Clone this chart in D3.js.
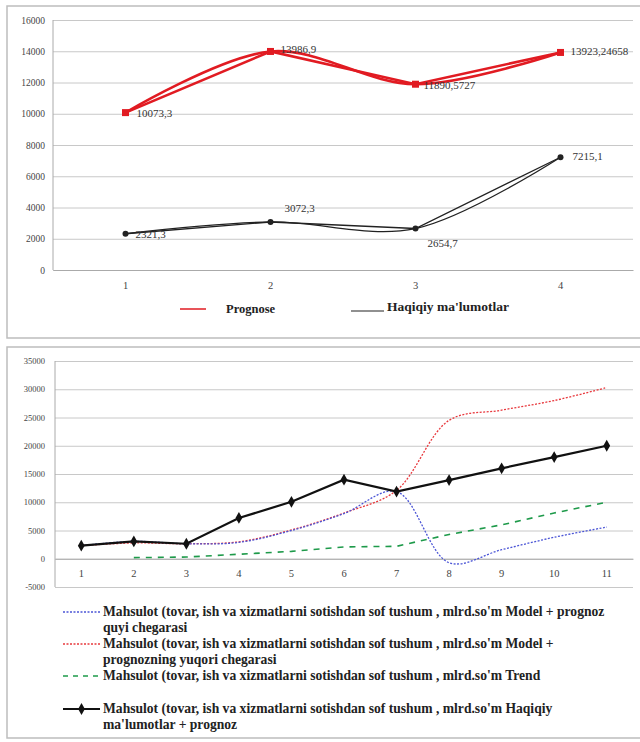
<!DOCTYPE html>
<html><head><meta charset="utf-8">
<script src="https://cdn.jsdelivr.net/npm/d3@7"></script>
<style>
body{margin:0;background:#fff;}
svg{display:block;}
</style></head>
<body>
<svg id="c" width="640" height="742"></svg>
<script>
// ---- top chart data
const topCats = ["1","2","3","4"];
const topPrognose = [10073.3, 13986.9, 11890.5727, 13923.24658];
const topPrognoseLabels = ["10073,3","13986,9","11890,5727","13923,24658"];
const topActual = [2321.3, 3072.3, 2654.7, 7215.1];
const topActualLabels = ["2321,3","3072,3","2654,7","7215,1"];
const topTicks = [0,2000,4000,6000,8000,10000,12000,14000,16000];

// ---- bottom chart data
const botCats = ["1","2","3","4","5","6","7","8","9","10","11"];
const botLower = [2321.3, 3072.3, 2654.7, 2900, 5000, 8000, 11890.6, -700, 1600, 3800, 5600];
const botUpper = [2321.3, 2800, 2654.7, 3000, 5100, 8100, 12100, 24500, 26300, 28000, 30300];
const botTrend = [null, 200, 300, 800, 1300, 2100, 2200, 4300, 6000, 8100, 10000];
const botActual = [2321.3, 3072.3, 2654.7, 7215.1, 10073.3, 13986.9, 11890.6, 13923.2, 16000, 18000, 20000];
const botTicks = [-5000,0,5000,10000,15000,20000,25000,30000,35000];

const legendTop = ["Prognose","Haqiqiy ma'lumotlar"];
const legendBot = [
 ["Mahsulot (tovar, ish va xizmatlarni sotishdan sof tushum , mlrd.so'm Model + prognoz","quyi chegarasi"],
 ["Mahsulot (tovar, ish va xizmatlarni sotishdan sof tushum , mlrd.so'm Model +","prognozning yuqori chegarasi"],
 ["Mahsulot (tovar, ish va xizmatlarni sotishdan sof tushum , mlrd.so'm Trend"],
 ["Mahsulot (tovar, ish va xizmatlarni sotishdan sof tushum , mlrd.so'm Haqiqiy","ma'lumotlar + prognoz"]
];

const svg = d3.select("#c");
const serif = "'Liberation Serif','DejaVu Serif',serif";
const gridC = "#c8c8c8";

// frames
svg.append("rect").attr("x",7).attr("y",6).attr("width",640).attr("height",332)
  .attr("fill","none").attr("stroke","#bdbdbd").attr("stroke-width",1.5);
svg.append("rect").attr("x",7).attr("y",347).attr("width",640).attr("height",391)
  .attr("fill","none").attr("stroke","#bdbdbd").attr("stroke-width",1.5);

// ================= TOP CHART
const tx = d3.scaleBand().domain(topCats).range([53,633]);
const ty = d3.scaleLinear().domain([0,16000]).range([270,20]);
const tg = svg.append("g");
tg.append("g").attr("transform","translate(53,0)")
  .call(d3.axisLeft(ty).tickValues(topTicks).tickSize(-580).tickFormat(d=>d))
  .call(g=>{g.select(".domain").remove();
    g.selectAll(".tick line").attr("stroke",gridC);
    g.selectAll(".tick text").attr("font-family",serif).attr("font-size",9.5).attr("fill","#444").attr("x",-8);});
tg.append("line").attr("x1",53).attr("x2",53).attr("y1",20).attr("y2",270).attr("stroke","#aaa");
tg.append("g").attr("transform","translate(0,270)")
  .call(d3.axisBottom(tx).tickSize(0).tickPadding(12))
  .call(g=>{g.select(".domain").attr("stroke","#aaa");
    g.selectAll(".tick text").attr("font-family",serif).attr("font-size",10.5).attr("fill","#444");});
const tcx = (d,i)=>tx(topCats[i])+tx.bandwidth()/2;
const red = "#e11b22";
[d3.curveLinear, d3.curveCatmullRom].forEach(cv=>{
  tg.append("path").datum(topPrognose)
    .attr("d",d3.line().x(tcx).y(d=>ty(d)).curve(cv))
    .attr("fill","none").attr("stroke",red).attr("stroke-width",2.6);
  tg.append("path").datum(topActual)
    .attr("d",d3.line().x(tcx).y(d=>ty(d)).curve(cv))
    .attr("fill","none").attr("stroke","#222").attr("stroke-width",1.3);
});
tg.selectAll(".rp").data(topPrognose).join("rect")
  .attr("x",(d,i)=>tcx(d,i)-3.5).attr("y",d=>ty(d)-3.5).attr("width",7).attr("height",7)
  .attr("fill",red);
tg.selectAll(".bp").data(topActual).join("circle")
  .attr("cx",tcx).attr("cy",d=>ty(d)).attr("r",3).attr("fill","#222");
const pOff = [[11,4],[10,2],[8,5],[10,3]];
tg.selectAll(".pl").data(topPrognose).join("text")
  .attr("x",(d,i)=>tcx(d,i)+pOff[i][0]).attr("y",(d,i)=>ty(d)+pOff[i][1])
  .attr("font-family",serif).attr("font-size",11).attr("fill","#333")
  .text((d,i)=>topPrognoseLabels[i]);
const aOff = [[10,4],[14,-10],[12,18],[12,3]];
tg.selectAll(".al").data(topActual).join("text")
  .attr("x",(d,i)=>tcx(d,i)+aOff[i][0]).attr("y",(d,i)=>ty(d)+aOff[i][1])
  .attr("font-family",serif).attr("font-size",11).attr("fill","#333")
  .text((d,i)=>topActualLabels[i]);
// top legend
tg.append("line").attr("x1",180).attr("x2",206).attr("y1",309).attr("y2",309).attr("stroke",red).attr("stroke-width",1.5);
tg.append("text").attr("x",226).attr("y",313).attr("font-family",serif).attr("font-size",12.5).attr("font-weight","bold").attr("fill","#222").text(legendTop[0]);
tg.append("line").attr("x1",351).attr("x2",384).attr("y1",311).attr("y2",311).attr("stroke","#222").attr("stroke-width",1.2);
tg.append("text").attr("x",387).attr("y",311).attr("font-family",serif).attr("font-size",13.5).attr("font-weight","bold").attr("fill","#222").text(legendTop[1]);

// ================= BOTTOM CHART
const bx = d3.scaleBand().domain(botCats).range([55,633]);
const by = d3.scaleLinear().domain([-5000,35000]).range([587,361]);
const bg = svg.append("g");
bg.append("g").attr("transform","translate(55,0)")
  .call(d3.axisLeft(by).tickValues(botTicks).tickSize(-578).tickFormat(d=>d))
  .call(g=>{g.select(".domain").remove();
    g.selectAll(".tick line").attr("stroke",gridC);
    g.selectAll(".tick text").attr("font-family",serif).attr("font-size",8.5).attr("fill","#444").attr("x",-10);});
bg.append("line").attr("x1",55).attr("x2",55).attr("y1",361).attr("y2",587).attr("stroke","#aaa");
bg.append("g").attr("transform",`translate(0,${by(0)})`)
  .call(d3.axisBottom(bx).tickSize(0).tickPadding(11))
  .call(g=>{g.select(".domain").attr("stroke","#aaa");
    g.selectAll(".tick text").attr("font-family",serif).attr("font-size",10.5).attr("fill","#444");});
const bcx = (d,i)=>bx(botCats[i])+bx.bandwidth()/2;
const lineB = d3.line().defined(d=>d!==null).x(bcx).y(d=>by(d));
bg.append("path").attr("d",lineB.curve(d3.curveLinear)(botTrend))
  .attr("fill","none").attr("stroke","#1e9a4a").attr("stroke-width",1.6).attr("stroke-dasharray","6,6");
bg.append("path").attr("d",lineB.curve(d3.curveCatmullRom)(botUpper))
  .attr("fill","none").attr("stroke","#e8383d").attr("stroke-width",1.3).attr("stroke-dasharray","2,1.5");
bg.append("path").attr("d",lineB.curve(d3.curveCatmullRom)(botLower))
  .attr("fill","none").attr("stroke","#4b55d6").attr("stroke-width",1.3).attr("stroke-dasharray","2,1.5");
bg.append("path").attr("d",lineB.curve(d3.curveLinear)(botActual))
  .attr("fill","none").attr("stroke","#111").attr("stroke-width",2.2);
bg.selectAll(".bm").data(botActual).join("path")
  .attr("transform",(d,i)=>`translate(${bcx(d,i)},${by(d)})`)
  .attr("d",d3.symbol(d3.symbolDiamond,40)).attr("fill","#111");

// bottom legend
const legStyles = [
 {c:"#4b55d6",dash:"2,1.5",w:1.3},
 {c:"#e8383d",dash:"2,1.5",w:1.3},
 {c:"#1e9a4a",dash:"5,5",w:1.5},
 {c:"#111",dash:null,w:2,marker:true}
];
const legY = [616,648,680,713];
legendBot.forEach((lines,k)=>{
  const st = legStyles[k], y = legY[k];
  const ln = bg.append("line").attr("x1",63).attr("x2",100).attr("y1",y-4).attr("y2",y-4)
    .attr("stroke",st.c).attr("stroke-width",st.w);
  if(st.dash) ln.attr("stroke-dasharray",st.dash);
  if(st.marker) bg.append("path").attr("transform",`translate(81.5,${y-4})`).attr("d",d3.symbol(d3.symbolDiamond,40)).attr("fill","#111");
  lines.forEach((t,j)=>{
    bg.append("text").attr("x",103).attr("y",y+j*15.5)
      .attr("font-family",serif).attr("font-size",13.6).attr("font-weight","bold").attr("fill","#222").text(t);
  });
});
</script>
</body></html>
